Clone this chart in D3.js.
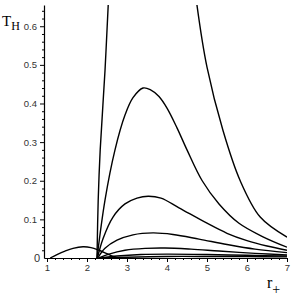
<!DOCTYPE html>
<html lang="en">
<head>
<meta charset="UTF-8">
<script src="https://d3js.org/d3.v7.min.js"></script>
<style>
  body { margin: 0; background: #fff; }
  .tick text { font-family: "Liberation Sans", Arial, sans-serif; font-size: 9.5px; fill: #333; }
</style>
</head>
<body>
<div id="viz"></div>
<script>
// tick labels
const xTicks = [1, 2, 3, 4, 5, 6, 7]
const yTicks = [0.1, 0.2, 0.3, 0.4, 0.5, 0.6]

// small hump on the left
const rHump = [1.08, 1.25, 1.45, 1.65, 1.9, 2.1, 2.3, 2.5, 2.65, 2.75]
const tHump = [0, 0.009, 0.018, 0.025, 0.029, 0.027, 0.02, 0.011, 0.004, 0]

// steepest curve, rising branch and falling branch (peak is off the chart)
const rSteepUp = [2.25, 2.28, 2.33, 2.45, 2.53, 2.56]
const tSteepUp = [0, 0.15, 0.28, 0.485, 0.654, 0.7]
const rSteepDown = [4.7, 4.75, 5.0, 5.4, 5.83, 6.33, 7]
const tSteepDown = [0.7, 0.654, 0.494, 0.33, 0.2, 0.106, 0.054]

// curves with visible peaks
const rPeak1 = [2.25, 2.45, 2.7, 2.95, 3.15, 3.4, 3.58, 3.8, 4.0, 4.25, 4.5, 4.88, 5.3, 5.8, 6.4, 7]
const tPeak1 = [0, 0.15, 0.28, 0.37, 0.415, 0.44, 0.436, 0.418, 0.388, 0.337, 0.28, 0.2, 0.14, 0.09, 0.055, 0.028]
const rPeak2 = [2.26, 2.4, 2.65, 2.95, 3.25, 3.53, 3.85, 4.3, 5.0, 5.5, 6.0, 6.5, 7]
const tPeak2 = [0, 0.05, 0.106, 0.14, 0.155, 0.16, 0.155, 0.13, 0.09, 0.064, 0.045, 0.031, 0.02]
const rPeak3 = [2.27, 2.45, 2.75, 3.15, 3.65, 4.15, 4.8, 5.5, 6.2, 7]
const tPeak3 = [0, 0.025, 0.046, 0.06, 0.065, 0.061, 0.049, 0.035, 0.023, 0.014]
const rPeak4 = [2.3, 2.55, 2.95, 3.45, 3.95, 4.6, 5.3, 6.2, 7]
const tPeak4 = [0, 0.01, 0.02, 0.025, 0.026, 0.023, 0.018, 0.012, 0.008]
const rPeak5 = [2.35, 2.75, 3.35, 4.0, 5.0, 6.0, 7]
const tPeak5 = [0, 0.005, 0.009, 0.01, 0.009, 0.007, 0.005]
const rPeak6 = [2.4, 3.0, 4.0, 5.0, 6.0, 7]
const tPeak6 = [0, 0.002, 0.004, 0.004, 0.0035, 0.003]

const series = [
  [rHump, tHump], [rSteepUp, tSteepUp], [rSteepDown, tSteepDown],
  [rPeak1, tPeak1], [rPeak2, tPeak2], [rPeak3, tPeak3],
  [rPeak4, tPeak4], [rPeak5, tPeak5], [rPeak6, tPeak6]
].map(([r, t]) => r.map((v, i) => ({r: v, t: t[i]})))

const width = 294
const height = 298
const margin = {top: 5, left: 44, right: 7, bottom: 40}

const svg = d3.select("#viz").append("svg")
  .attr("width", width)
  .attr("height", height)

const xScale = d3.scaleLinear()
  .domain([0.925, 7])
  .range([margin.left, width - margin.right])
const yScale = d3.scaleLinear()
  .domain([0, 0.655])
  .range([height - margin.bottom, margin.top])

svg.append("clipPath").attr("id", "clip")
  .append("rect")
  .attr("x", margin.left).attr("y", margin.top)
  .attr("width", width - margin.right - margin.left)
  .attr("height", height - margin.bottom - margin.top)

// minor ticks
const xMinor = d3.range(1, 7.001, 0.2).filter(v => Math.abs(v - Math.round(v)) > 1e-6)
const yMinor = d3.range(0.02, 0.655, 0.02).filter(v => Math.abs(v * 10 - Math.round(v * 10)) > 1e-6)

svg.append("g")
  .attr("transform", `translate(0,${yScale(0)})`)
  .call(d3.axisBottom(xScale).tickValues(xMinor).tickSize(2).tickFormat(""))
  .call(g => g.select(".domain").remove())
svg.append("g")
  .attr("transform", `translate(${margin.left},0)`)
  .call(d3.axisLeft(yScale).tickValues(yMinor).tickSize(2).tickFormat(""))
  .call(g => g.select(".domain").remove())

// major axes
const xAxis = svg.append("g")
  .attr("transform", `translate(0,${yScale(0)})`)
  .call(d3.axisBottom(xScale).tickValues(xTicks).tickSize(4).tickSizeOuter(0).tickPadding(2)
    .tickFormat(d3.format("d")))
const yAxis = svg.append("g")
  .attr("transform", `translate(${margin.left},0)`)
  .call(d3.axisLeft(yScale).tickValues(yTicks).tickSize(4).tickSizeOuter(0).tickPadding(3)
    .tickFormat(d3.format(".1f")))

svg.selectAll(".domain").attr("stroke", "#000").attr("stroke-width", 1.2)
svg.selectAll(".tick line").attr("stroke", "#000")

// origin zero label
svg.append("text")
  .attr("x", margin.left - 4)
  .attr("y", yScale(0) + 4)
  .attr("text-anchor", "end")
  .attr("font-family", "Liberation Sans, Arial, sans-serif")
  .attr("font-size", 11)
  .attr("fill", "#333")
  .text("0")

// curves
const lineGen = d3.line()
  .x(d => xScale(d.r))
  .y(d => yScale(d.t))
  .curve(d3.curveCatmullRom.alpha(0.5))

svg.append("g").attr("clip-path", "url(#clip)")
  .selectAll("path")
  .data(series)
  .enter()
  .append("path")
  .attr("d", d => lineGen(d))
  .attr("fill", "none")
  .attr("stroke", "#000")
  .attr("stroke-width", 1.4)

// axis titles
const yTitle = svg.append("text")
  .attr("x", 2).attr("y", 26)
  .attr("font-family", "Liberation Serif, Times New Roman, serif")
  .attr("fill", "#000")
yTitle.append("tspan").attr("font-size", 15).text("T")
yTitle.append("tspan").attr("font-size", 12).attr("dy", 4).text("H")

const xTitle = svg.append("text")
  .attr("x", 267).attr("y", 288)
  .attr("font-family", "Liberation Serif, Times New Roman, serif")
  .attr("fill", "#000")
xTitle.append("tspan").attr("font-size", 16).text("r")
xTitle.append("tspan").attr("font-size", 14).attr("dy", 6).text("+")
</script>
</body>
</html>
